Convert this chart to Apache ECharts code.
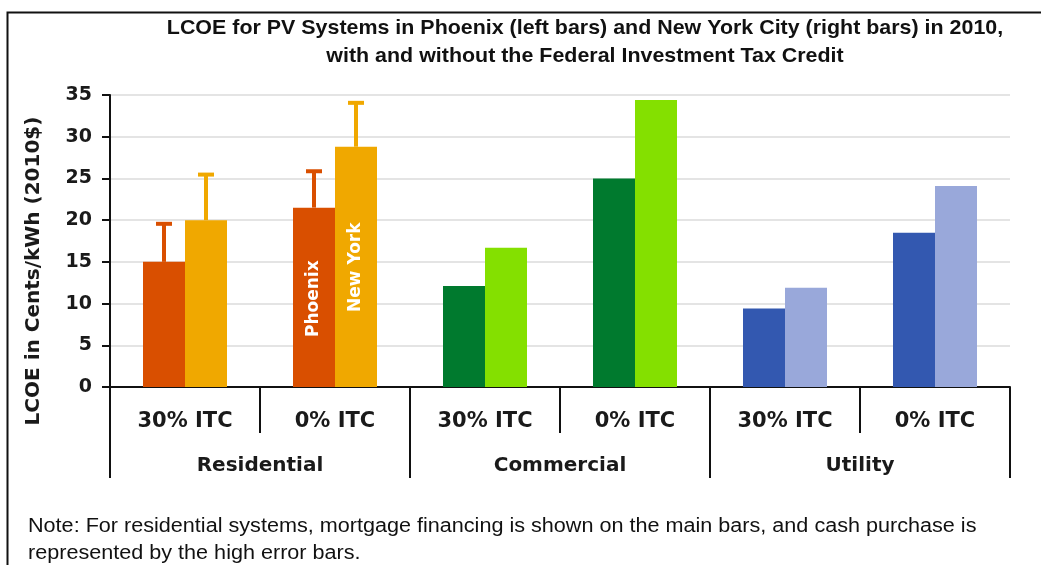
<!DOCTYPE html>
<html>
<head>
<meta charset="utf-8">
<script src="https://cdn.jsdelivr.net/npm/echarts@6/dist/echarts.min.js"></script>
<style>
  html, body { margin: 0; padding: 0; background: #fff; }
  #chart { width: 1041px; height: 565px; }
</style>
</head>
<body>
<div id="chart"></div>
<script>
// LCOE, cents/kWh (2010$)
const subCats = ['30% ITC', '0% ITC', '30% ITC', '0% ITC', '30% ITC', '0% ITC'];
const sectors = ['Residential', 'Commercial', 'Utility'];
const phoenix = [15.0, 21.5, 12.1, 25.0, 9.4, 18.5];
const newYork = [20.0, 28.8, 16.7, 34.4, 11.9, 24.1];
// cash purchase (high error bars), residential only
const phoenixHigh = [19.8, 26.1];
const newYorkHigh = [25.7, 34.3];
const yTicks = [0, 35, 5]; // min, max, step

const phoenixColors = ['#d94f00', '#d94f00', '#007a2e', '#007a2e', '#3358b0', '#3358b0'];
const newYorkColors = ['#f0a800', '#f0a800', '#84e000', '#84e000', '#99a8da', '#99a8da'];

const BAR_W = 42;
const labelFont = 'DejaVu Sans';
const narrowFont = 'Liberation Sans';

let chart = echarts.init(document.getElementById('chart'));

function barData(vals, colors, labelIdx, labelText, dist) {
  return vals.map(function (v, i) {
    let item = { value: v, itemStyle: { color: colors[i] } };
    if (i === labelIdx) {
      item.label = {
        show: true, formatter: labelText, position: 'insideBottom',
        rotate: 90, align: 'left', verticalAlign: 'middle', distance: dist,
        color: '#fff', fontWeight: 'bold', fontSize: 17, fontFamily: labelFont
      };
    }
    return item;
  });
}

function errData(highs, vals, colors) {
  return highs.map(function (h, i) { return [i, vals[i], h, colors[i]]; });
}

function errRender(side) {
  return function (params, api) {
    let x = api.value(0);
    let lo = api.coord([x, api.value(1)]);
    let hi = api.coord([x, api.value(2)]);
    let cx = lo[0] + side * BAR_W / 2;
    let col = api.value(3);
    let cap = 8;
    return {
      type: 'group',
      children: [
        { type: 'line', shape: { x1: cx, y1: lo[1], x2: cx, y2: hi[1] + 2 }, style: { stroke: col, lineWidth: 4 } },
        { type: 'line', shape: { x1: cx - cap, y1: hi[1] + 2, x2: cx + cap, y2: hi[1] + 2 }, style: { stroke: col, lineWidth: 4 } }
      ]
    };
  };
}

chart.setOption({
  animation: false,
  grid: { left: 110, right: 31, top: 95, bottom: 178 },
  xAxis: [{
    type: 'category', data: subCats,
    axisLine: { lineStyle: { color: '#111', width: 2 } },
    axisTick: { show: true, interval: 0, length: 46, lineStyle: { color: '#111', width: 2 } },
    axisLabel: { interval: 0, margin: 24, color: '#1a1a1a', fontWeight: 'bold', fontSize: 21, fontFamily: labelFont }
  }, {
    type: 'category', data: sectors, position: 'bottom',
    axisLine: { show: false },
    axisTick: { show: true, interval: 0, length: 91, lineStyle: { color: '#111', width: 2 } },
    axisLabel: { interval: 0, margin: 69, color: '#1a1a1a', fontWeight: 'bold', fontSize: 20, fontFamily: labelFont }
  }],
  yAxis: {
    type: 'value', min: yTicks[0], max: yTicks[1], interval: yTicks[2],
    name: 'LCOE in Cents/kWh (2010$)', nameLocation: 'middle', nameRotate: 90, nameGap: 66,
    nameTextStyle: { color: '#1a1a1a', fontWeight: 'bold', fontSize: 20, fontFamily: labelFont, padding: [0, 60, 0, 0] },
    axisLine: { show: true, lineStyle: { color: '#111', width: 2 } },
    axisTick: { show: true, length: 8, lineStyle: { color: '#111', width: 2 } },
    axisLabel: { margin: 18, color: '#1a1a1a', fontWeight: 'bold', fontSize: 19, fontFamily: labelFont },
    splitLine: { lineStyle: { color: '#e4e4e4', width: 2 } }
  },
  series: [{
    name: 'Phoenix', type: 'bar', barWidth: BAR_W, barGap: '0%',
    data: barData(phoenix, phoenixColors, 1, 'Phoenix', 50)
  }, {
    name: 'New York', type: 'bar', barWidth: BAR_W, barGap: '0%',
    data: barData(newYork, newYorkColors, 1, 'New York', 75)
  }, {
    type: 'custom', renderItem: errRender(-1), z: 1,
    data: errData(phoenixHigh, phoenix, phoenixColors)
  }, {
    type: 'custom', renderItem: errRender(1), z: 1,
    data: errData(newYorkHigh, newYork, newYorkColors)
  }],
  graphic: [{
    type: 'rect', left: 5, top: 10, silent: true,
    shape: { width: 1100, height: 600 },
    style: { fill: null, stroke: '#111', lineWidth: 2 }
  }, {
    type: 'text', x: 585, y: 14, scaleX: 1.02,
    style: {
      text: 'LCOE for PV Systems in Phoenix (left bars) and New York City (right bars) in 2010,\nwith and without the Federal Investment Tax Credit',
      align: 'center', fontFamily: narrowFont, fontWeight: 'bold', fontSize: 21, lineHeight: 28, fill: '#111'
    }
  }, {
    type: 'text', x: 28, y: 513, scaleX: 1.08,
    style: {
      text: 'Note: For residential systems, mortgage financing is shown on the main bars, and cash purchase is\nrepresented by the high error bars.',
      fontFamily: narrowFont, fontSize: 20, lineHeight: 27, fill: '#111'
    }
  }]
});
</script>
</body>
</html>
